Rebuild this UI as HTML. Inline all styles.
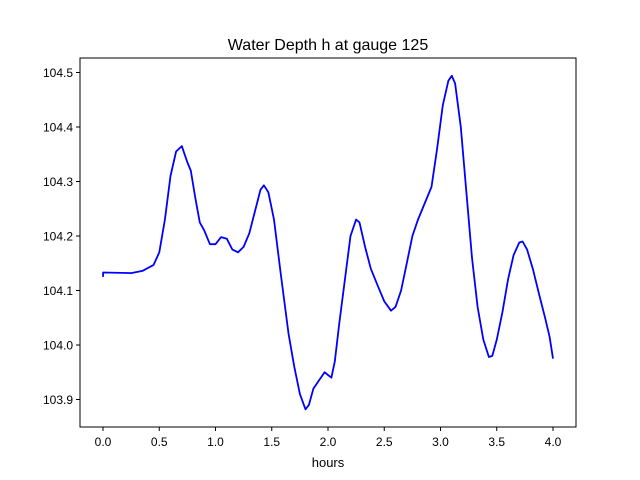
<!DOCTYPE html>
<html><head><meta charset="utf-8"><style>
body{margin:0;background:#fff;}
svg{display:block;font-family:"Liberation Sans","DejaVu Sans",sans-serif;}
</style></head><body>
<svg id="chart" width="640" height="480">
<rect width="640" height="480" fill="#fff"/>
<text x="328" y="50" text-anchor="middle" font-size="16">Water Depth h at gauge 125</text>
<g id="ticks"></g>
<polyline id="line" fill="none" stroke="#0000ff" stroke-width="1.8" stroke-linejoin="round"/>
<rect x="80" y="58" width="496" height="369" fill="none" stroke="#000" stroke-width="1"/>
<text x="328" y="467" text-anchor="middle" font-size="13">hours</text>
</svg>
<script>
const hours=[0,0.001,0.25,0.35,0.45,0.5,0.55,0.6,0.65,0.7,0.75,0.78,0.82,0.86,0.9,0.95,1.0,1.05,1.1,1.15,1.2,1.25,1.3,1.35,1.4,1.43,1.47,1.52,1.58,1.65,1.7,1.75,1.8,1.83,1.87,1.92,1.97,2.0,2.03,2.06,2.1,2.15,2.2,2.25,2.28,2.33,2.38,2.45,2.5,2.56,2.6,2.65,2.7,2.75,2.8,2.85,2.92,2.97,3.02,3.07,3.1,3.13,3.18,3.23,3.28,3.33,3.38,3.43,3.46,3.5,3.55,3.6,3.65,3.7,3.73,3.77,3.82,3.88,3.93,3.97,4.0];
const depth=[104.125,104.133,104.132,104.136,104.147,104.17,104.23,104.31,104.355,104.365,104.335,104.32,104.27,104.225,104.21,104.185,104.185,104.198,104.195,104.175,104.17,104.18,104.205,104.245,104.285,104.293,104.28,104.23,104.13,104.02,103.96,103.91,103.882,103.89,103.92,103.935,103.95,103.945,103.94,103.97,104.04,104.12,104.2,104.23,104.225,104.18,104.14,104.105,104.08,104.063,104.07,104.1,104.15,104.2,104.23,104.255,104.29,104.36,104.44,104.485,104.494,104.48,104.4,104.28,104.16,104.07,104.01,103.978,103.98,104.01,104.06,104.12,104.165,104.188,104.19,104.175,104.14,104.09,104.05,104.015,103.975];
const xTicks=["0.0","0.5","1.0","1.5","2.0","2.5","3.0","3.5","4.0"];
const yTicks=["103.9","104.0","104.1","104.2","104.3","104.4","104.5"];
const X=v=>103+v*112.5;
const Y=v=>345-(v-104.0)*545;
const NS="http://www.w3.org/2000/svg";
const g=document.getElementById('ticks');
function mk(t,a){const e=document.createElementNS(NS,t);for(const k in a)e.setAttribute(k,a[k]);g.appendChild(e);return e;}
xTicks.forEach(t=>{const x=X(parseFloat(t));
 const l=mk('line',{x1:x,x2:x,y1:427,y2:431,stroke:'#000'});
 
 
 const tx=mk('text',{x:x,y:446,'text-anchor':'middle','font-size':'12'});tx.textContent=t;
 
 
});
yTicks.forEach(t=>{const y=Y(parseFloat(t));
 const l=mk('line',{x1:76,x2:80,y1:y,y2:y,stroke:'#000'});
 
 
 const tx=mk('text',{x:73,y:y+4.5,'text-anchor':'end','font-size':'12'});tx.textContent=t;
 
 
});
document.getElementById('line').setAttribute('points',hours.map((h,i)=>X(h).toFixed(1)+','+Y(depth[i]).toFixed(1)).join(' '));
</script>
</body></html>
